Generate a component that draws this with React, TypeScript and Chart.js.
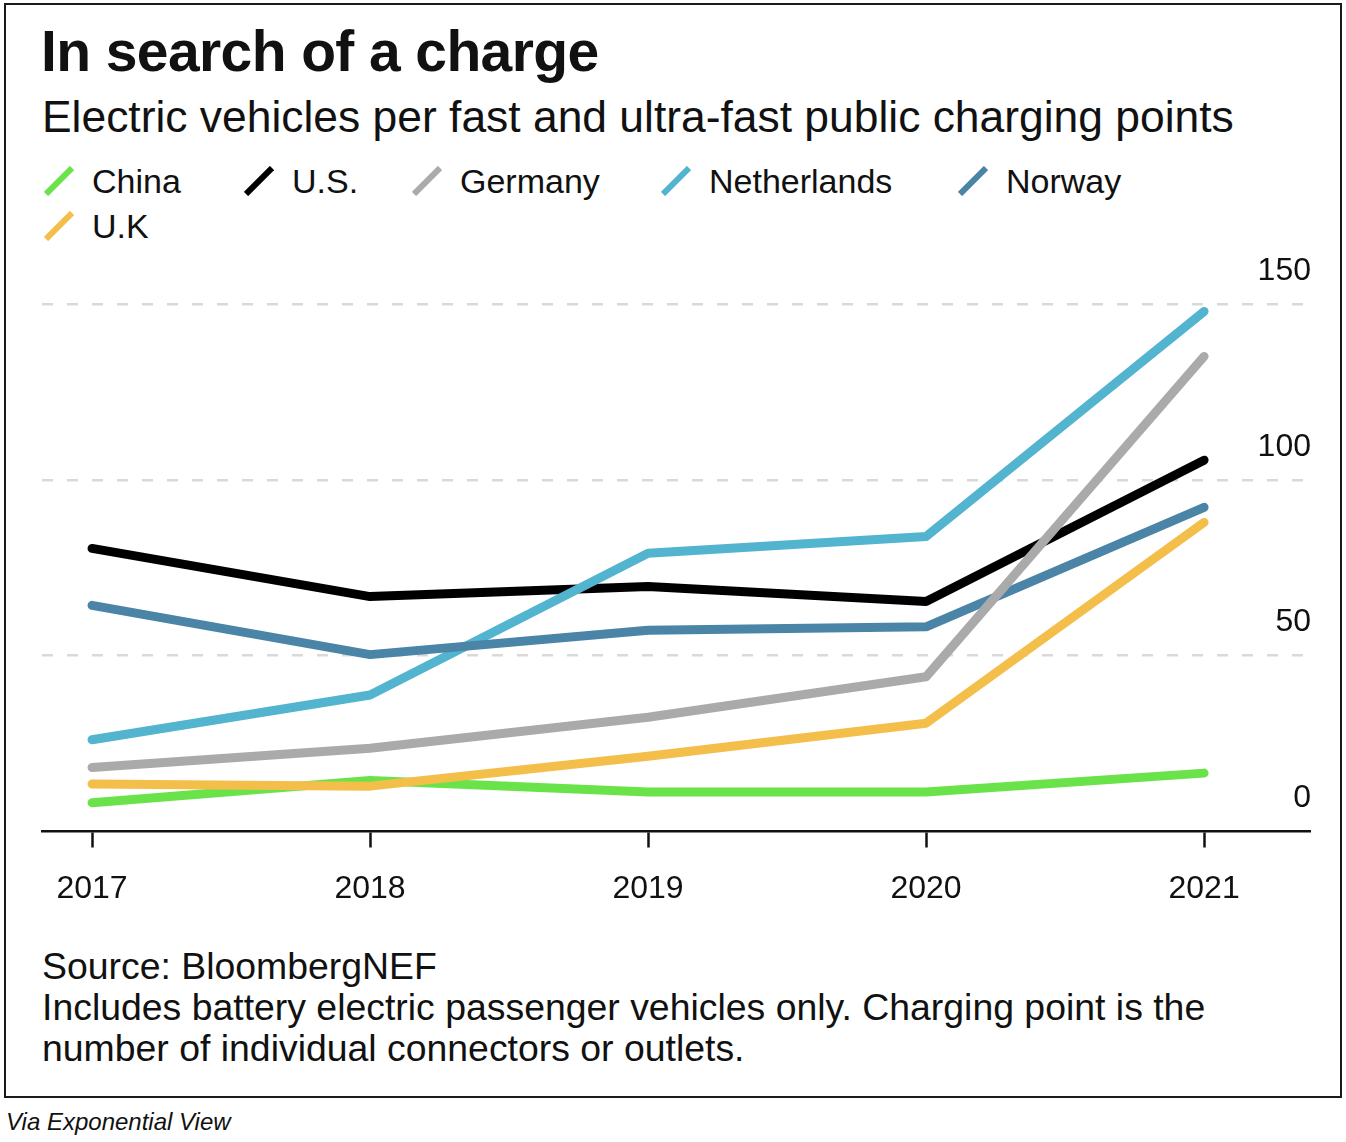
import React, { useEffect, useRef } from "react";
import { Chart, registerables } from "chart.js";

Chart.register(...registerables);

const years = [2017, 2018, 2019, 2020, 2021];
const china = [8.2, 14.5, 11.2, 11.2, 16.6];
const us = [80.5, 66.8, 69.7, 65.4, 105.6];
const germany = [18.2, 23.7, 32.5, 44.0, 135.1];
const netherlands = [26.1, 38.8, 79.1, 83.9, 147.9];
const norway = [64.3, 50.3, 57.2, 58.2, 92.2];
const uk = [13.5, 12.9, 21.4, 30.8, 87.9];
const yTicks = [0, 50, 100, 150];

const seriesNames = ["China", "U.S.", "Germany", "Netherlands", "Norway", "U.K"];
const seriesColors = ["#6ae34b", "#000000", "#aaaaaa", "#52b4cf", "#4a84a6", "#f4be4a"];
const seriesValues = [china, us, germany, netherlands, norway, uk];
// lower order = drawn on top
const seriesOrder = [6, 4, 1, 3, 2, 5];

const FONT = '"Liberation Sans", Helvetica, Arial, sans-serif';

const legendPos = [
  { x: 44, row: 0 },
  { x: 244, row: 0 },
  { x: 412, row: 0 },
  { x: 661, row: 0 },
  { x: 958, row: 0 },
  { x: 44, row: 1 },
];

export default function App() {
  const canvasRef = useRef<HTMLCanvasElement | null>(null);

  useEffect(() => {
    const canvas = canvasRef.current;
    if (!canvas) return;
    const chart = new Chart(canvas, {
      type: "line",
      data: {
        datasets: seriesNames.map((name, i) => ({
          label: name,
          data: years.map((yr, j) => ({ x: yr, y: seriesValues[i][j] })),
          borderColor: seriesColors[i],
          backgroundColor: seriesColors[i],
          borderWidth: 9,
          borderCapStyle: "round" as const,
          borderJoinStyle: "round" as const,
          pointRadius: 0,
          pointHoverRadius: 0,
          tension: 0,
          fill: false,
          clip: false as any,
          order: seriesOrder[i],
        })),
      },
      options: {
        animation: false,
        responsive: false,
        maintainAspectRatio: false,
        events: [],
        layout: { padding: { left: 42, right: 34, top: 64, bottom: 8.5 } },
        plugins: {
          legend: { display: false },
          tooltip: { enabled: false },
          title: { display: false },
        },
        scales: {
          x: {
            type: "linear",
            position: "bottom",
            min: 2016.82,
            max: 2021.381,
            afterBuildTicks: (scale: any) => {
              scale.ticks = years.map((v) => ({ value: v }));
            },
            afterFit: (scale: any) => {
              scale.height = 100;
            },
            ticks: {
              callback: (v: any) => String(v),
              font: { family: FONT, size: 32 },
              color: "#111111",
              padding: 22,
              maxRotation: 0,
              autoSkip: false,
            },
            grid: {
              display: true,
              drawOnChartArea: false,
              drawTicks: true,
              tickLength: 16,
              tickWidth: 2.5,
              tickColor: "#111111",
              color: "#111111",
            },
            border: { display: true, color: "#111111", width: 2.5 },
          },
          y: {
            type: "linear",
            position: "right",
            min: 0,
            max: 150,
            afterBuildTicks: (scale: any) => {
              scale.ticks = yTicks.map((v) => ({ value: v }));
            },
            ticks: {
              mirror: true,
              padding: 1,
              labelOffset: -33,
              font: { family: FONT, size: 32 },
              color: "#111111",
              callback: (v: any) => String(v),
            },
            grid: {
              drawTicks: false,
              lineWidth: 2.5,
              color: (ctx: any) =>
                ctx.tick && ctx.tick.value === 0 ? "rgba(0,0,0,0)" : "#d9d9d9",
            },
            border: { display: false, dash: [11, 14] },
          },
        },
      },
    });
    return () => chart.destroy();
  }, []);

  const text = (style: React.CSSProperties, content: React.ReactNode) => (
    <div style={{ position: "absolute", whiteSpace: "nowrap", color: "#111", fontFamily: FONT, ...style }}>
      {content}
    </div>
  );

  return (
    <div style={{ position: "absolute", left: 0, top: 0, width: 1346, height: 1142, background: "#fff" }}>
      <div
        style={{
          position: "absolute",
          left: 4,
          top: 3,
          width: 1334,
          height: 1091,
          border: "2px solid #1a1a1a",
        }}
      />
      {text({ left: 41, top: 23, fontSize: 57, lineHeight: "57px", fontWeight: 700, letterSpacing: -0.6 }, "In search of a charge")}
      {text({ left: 42, top: 95, fontSize: 44.4, lineHeight: "44px" }, "Electric vehicles per fast and ultra-fast public charging points")}
      {seriesNames.map((name, i) => {
        const p = legendPos[i];
        const top = 164 + p.row * 45;
        return (
          <React.Fragment key={name}>
            <svg
              style={{ position: "absolute", left: p.x, top: top + 2, width: 30, height: 30 }}
              width={30}
              height={30}
            >
              <line x1={2} y1={28} x2={28} y2={2} stroke={seriesColors[i]} strokeWidth={6} />
            </svg>
            {text({ left: p.x + 48, top, fontSize: 34, lineHeight: "34px" }, name)}
          </React.Fragment>
        );
      })}
      <canvas
        ref={canvasRef}
        width={1346}
        height={700}
        style={{ position: "absolute", left: 0, top: 240, width: 1346, height: 700 }}
      />
      {text({ left: 42, top: 946, fontSize: 37.4, lineHeight: "41px" }, "Source: BloombergNEF")}
      {text({ left: 42, top: 987, fontSize: 37.4, lineHeight: "41px" }, "Includes battery electric passenger vehicles only. Charging point is the")}
      {text({ left: 42, top: 1028, fontSize: 37.4, lineHeight: "41px" }, "number of individual connectors or outlets.")}
      {text({ left: 6, top: 1110, fontSize: 24, lineHeight: "24px", fontStyle: "italic" }, "Via Exponential View")}
    </div>
  );
}
